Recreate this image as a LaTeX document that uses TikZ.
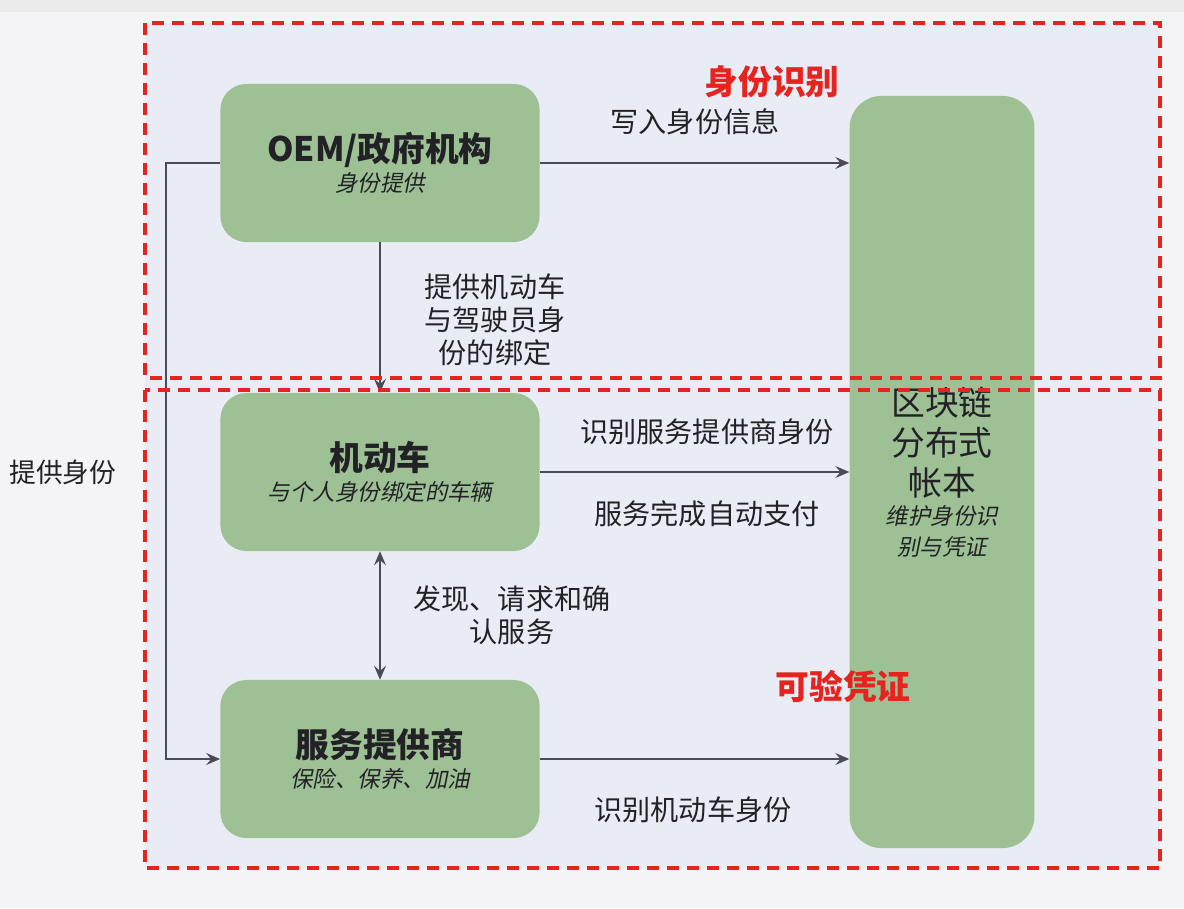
\documentclass[tikz,border=0pt]{standalone}
\usepackage{fontspec}
\setmainfont{Noto Sans CJK SC}
\newfontfamily\slantfont[FakeSlant=0.2]{Noto Sans CJK SC}
\usepackage{xcolor}
\usepackage{tikz}
\usetikzlibrary{arrows.meta,positioning}
\definecolor{boxgreen}{HTML}{9DC095}
\definecolor{zonefill}{HTML}{E9ECF4}
\definecolor{pagefill}{HTML}{F4F4F7}
\definecolor{zonered}{HTML}{E6231E}
\definecolor{linegray}{HTML}{4A4B55}
\definecolor{inkdark}{HTML}{222226}
\newcommand{\titlefont}{\bfseries\fontsize{24}{28.5}\selectfont}
\newcommand{\subfont}{\mdseries\slantfont\fontsize{16}{20}\selectfont}

\begin{document}
\begin{tikzpicture}[
  x=0.025cm, y=-0.025cm,
  block/.style={fill=boxgreen, rounded corners=0.65cm, minimum width=7.98cm, minimum height=3.95cm, align=center, text=inkdark, font=\titlefont},
  arrow/.style={-{Stealth[length=3.5mm,width=3mm,inset=1.3mm]}, draw=linegray, line width=0.9pt},
  note/.style={font=\fontsize{20}{23.5}\selectfont, text=inkdark, align=center},
  zone/.style={draw=zonered, line width=2.8pt, dash pattern=on 0.3cm off 0.2cm},
  tag/.style={font=\bfseries\fontsize{24}{28}\selectfont, text=zonered}
]
% page and zones
\fill[pagefill] (0,0) rectangle (1184,908);
\fill[black!8] (0,0) rectangle (1184,12);
\fill[zonefill] (145,23) rectangle (1160,868);

\node[block] (oem) at (380,163) {OEM/政府机构\\[-7pt] \subfont 身份提供};
\node[block] (car) at (380,472) {机动车\\[-7pt] \subfont 与个人身份绑定的车辆};
\node[block] (svc) at (380,759) {服务提供商\\[-7pt] \subfont 保险、保养、加油};
\node[block, font=\fontsize{24}{28.5}\selectfont, rounded corners=0.8cm, minimum width=4.62cm, minimum height=18.8cm] (ledger) at (942,472)
  {区块链\\ 分布式\\ 帐本\\[-8pt] \subfont 维护身份识\\[-6.5pt] \subfont 别与凭证};

% connectors
\draw[arrow] (oem.east) -- (oem.east -| ledger.west);
\draw[arrow] (oem.south) -- (car.north);
\draw[arrow] (car.east) -- (car.east -| ledger.west);
\draw[arrow, {Stealth[length=3.5mm,width=3mm,inset=1.3mm]}-{Stealth[length=3.5mm,width=3mm,inset=1.3mm]}] (car.south) -- (svc.north);
\draw[arrow] (svc.east) -- (svc.east -| ledger.west);
\draw[arrow] (oem.west) -- ++(-54,0) |- (svc.west);

% labels
\node[note] (lwrite) at (695,122) {写入身份信息};
\node[note] (lbind) at (495,320) {提供机动车\\与驾驶员身\\份的绑定};
\node[note] (lidsvc) at (707,432) {识别服务提供商身份};
\node[note] (lpay) at (707,514) {服务完成自动支付};
\node[note] (lfind) at (512,615) {发现、请求和确\\认服务};
\node[note] (lidcar) at (693,810) {识别机动车身份};
\node[note, font=\fontsize{19}{23}\selectfont] (lgive) at (63,472) {提供身份};

% dashed zones
\draw[zone] (145,23) rectangle (1160,378);
\draw[zone] (145,390) rectangle (1160,868);
\node[tag] (tident) at (772,82) {身份识别};
\node[tag] (tcred) at (843,686) {可验凭证};
\end{tikzpicture}
\end{document}
